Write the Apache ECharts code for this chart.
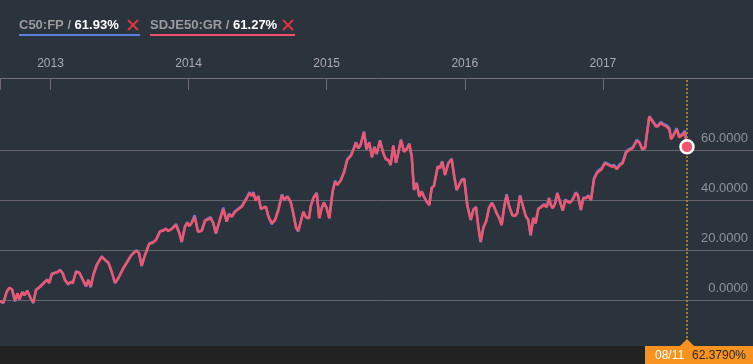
<!DOCTYPE html>
<html>
<head>
<meta charset="utf-8">
<script src="https://cdn.jsdelivr.net/npm/echarts@6/dist/echarts.min.js"></script>
<style>
html,body{margin:0;padding:0;background:#2b333d;}
#c{width:753px;height:364px;}
</style>
</head>
<body>
<div id="c"></div>
<script>
// time positions as decimal years
const years = [
2012.634,2012.658,2012.683,2012.702,2012.721,2012.743,2012.760,2012.774,2012.796,2012.810,2012.832,2012.857,2012.875,2012.895,2012.924,2012.960,2012.977,2012.991,2013.009,2013.033,2013.049,2013.069,2013.088,2013.105,2013.129,2013.146,2013.161,2013.185,2013.209,2013.233,2013.257,2013.274,2013.291,2013.310,2013.335,2013.371,2013.395,2013.419,2013.443,2013.467,2013.491,
2013.503,2013.527,2013.556,2013.581,2013.600,2013.624,2013.641,2013.660,2013.684,2013.715,2013.740,2013.764,2013.793,2013.817,2013.834,2013.853,2013.878,2013.909,2013.933,2013.950,2013.974,2013.991,2014.005,2014.022,2014.044,2014.068,2014.095,2014.119,2014.143,2014.160,2014.179,2014.198,2014.222,2014.251,2014.276,2014.293,2014.312,2014.336,2014.360,2014.385,
2014.396,2014.421,2014.440,2014.457,2014.469,2014.486,2014.505,2014.524,2014.541,2014.560,
2014.577,2014.602,2014.626,2014.650,2014.676,2014.693,2014.715,2014.739,2014.758,2014.778,
2014.794,2014.812,2014.831,2014.850,2014.872,2014.884,2014.903,2014.928,2014.946,2014.964,
2014.980,2015.000,2015.019,2015.043,2015.060,2015.077,2015.101,2015.125,2015.149,2015.176,
2015.193,2015.212,2015.229,2015.246,2015.270,2015.288,2015.308,2015.328,2015.345,2015.362,
2015.386,2015.410,2015.429,2015.446,2015.463,2015.482,2015.502,2015.518,2015.538,2015.560,
2015.579,2015.598,2015.616,2015.632,2015.652,2015.671,2015.688,2015.705,2015.724,2015.743,
2015.760,2015.777,2015.804,2015.820,2015.837,2015.857,2015.881,2015.905,2015.924,2015.941,
2015.960,2015.978,2015.996,2016.018,2016.043,2016.062,2016.081,2016.098,2016.115,2016.134,
2016.156,2016.175,2016.195,2016.211,2016.231,2016.250,2016.267,2016.284,2016.303,2016.322,
2016.344,2016.364,2016.380,2016.400,2016.419,2016.441,2016.460,2016.477,2016.496,2016.513,
2016.532,2016.552,2016.574,2016.593,2016.610,2016.622,2016.637,2016.653,2016.670,2016.689,
2016.709,2016.728,2016.745,2016.762,2016.781,2016.803,2016.818,2016.841,2016.858,2016.878,
2016.894,2016.914,2016.936,2016.959,2016.991,2017.015,2017.039,2017.064,2017.080,2017.100,
2017.124,2017.143,2017.167,2017.191,2017.216,2017.245,2017.264,2017.285,2017.305,2017.336,
2017.361,2017.385,2017.401,2017.419,2017.437,2017.462,2017.481,2017.493,2017.510,2017.534,
2017.553,2017.578,2017.594,2017.609
];

// SDJE50:GR cumulative performance (%)
const sdje50 = [
-0.4,-1.1,3.3,4.9,4.3,-0.3,2.7,0.3,3.2,1.9,3.6,0.7,-1.1,4.0,5.3,7.3,8.0,6.9,10.4,10.9,11.1,11.9,10.7,8.0,6.3,7.3,6.7,11.3,10.9,8.3,5.6,8.0,5.3,10.0,14.0,17.3,16.0,14.9,11.3,6.9,8.7,
9.0,12.7,15.3,17.6,18.7,19.7,18.7,13.7,18.0,22.4,22.9,24.0,27.5,27.7,28.5,27.6,28.4,30.0,26.7,23.3,29.3,30.9,29.6,30.7,33.3,27.3,27.7,31.7,32.3,32.7,30.7,26.7,31.3,36.3,31.3,34.4,33.3,35.3,36.3,37.3,
38.0,40.7,42.7,41.6,42.9,39.7,41.6,36.4,36.9,37.3,
33.6,30.7,32.0,36.0,42.0,40.0,41.3,39.3,34.7,29.1,
27.7,31.3,35.3,33.1,32.7,37.3,40.7,42.7,32.7,36.7,
38.9,36.7,32.7,43.3,47.3,46.0,47.7,50.9,56.0,57.7,
60.0,62.9,60.7,62.0,67.2,60.3,62.9,57.1,61.1,58.4,
63.7,58.7,56.3,56.0,54.0,61.6,54.9,58.7,64.0,59.3,
60.3,62.4,57.3,44.0,46.7,41.3,43.3,41.3,39.3,38.0,
44.7,45.6,53.3,52.7,55.3,50.0,54.7,56.3,49.3,44.0,
46.0,48.0,48.3,38.0,32.0,36.0,37.1,29.3,23.3,28.8,
31.6,36.7,38.7,37.3,34.7,32.7,30.0,36.7,42.0,37.3,
34.0,33.6,34.7,41.6,38.0,33.6,32.0,26.0,32.7,30.7,
36.3,37.1,38.0,37.1,40.7,38.0,36.7,38.4,42.7,39.3,
35.7,40.0,39.3,38.9,40.0,42.7,42.0,36.0,40.7,40.7,
41.6,40.0,48.4,50.9,52.3,54.7,54.0,53.3,53.6,52.3,
54.0,54.7,58.9,60.0,60.7,63.7,62.9,60.3,60.7,73.3,
71.3,69.3,69.6,70.9,70.0,69.3,68.3,64.3,65.6,68.3,
65.1,66.0,67.2,61.27
];

// C50:FP cumulative performance (%)
const c50 = [
-0.4,-1.3,3.3,4.9,4.3,-0.6,2.7,0.1,3.2,1.9,3.8,0.5,-1.3,4.0,5.3,7.3,8.2,6.7,10.4,10.9,11.1,12.1,10.7,8.0,6.1,7.3,6.7,11.5,10.9,8.1,5.4,8.0,5.1,10.0,14.0,17.5,16.0,14.9,11.3,6.7,8.7,
9.0,12.7,15.3,17.6,18.9,19.9,18.7,13.5,18.0,22.6,23.1,24.0,27.5,27.9,28.5,27.6,28.6,30.4,26.7,23.1,29.5,31.1,29.6,30.9,33.9,27.3,27.7,31.9,32.7,33.1,30.7,26.5,31.3,37.0,31.3,34.6,33.3,35.5,36.5,37.6,
38.3,40.9,43.1,41.8,43.2,39.7,41.6,36.4,36.9,37.3,
33.4,30.3,32.0,36.2,42.3,40.0,41.5,39.3,34.7,28.9,
27.4,31.3,35.3,33.1,32.7,37.5,40.9,42.9,32.7,36.9,
39.1,36.7,32.7,43.5,47.7,46.2,47.9,51.2,56.4,58.0,
60.3,63.1,60.7,62.2,67.4,60.3,63.1,57.1,61.3,58.4,
63.9,58.7,56.3,56.0,54.0,61.8,54.9,58.9,64.2,59.3,
60.5,62.6,57.3,44.2,46.9,41.3,43.5,41.3,39.3,38.0,
44.9,45.8,53.5,52.9,55.5,50.0,54.9,56.5,49.3,44.0,
46.2,48.2,48.5,38.0,32.0,36.2,37.3,29.3,23.1,29.0,
31.8,36.9,38.9,37.5,34.7,32.7,30.0,36.9,42.3,37.3,
34.0,33.6,34.9,41.9,38.0,33.6,32.0,25.8,32.9,30.7,
36.5,37.3,38.3,37.3,40.9,38.2,36.7,38.6,42.9,39.5,
35.7,40.2,39.5,39.1,40.3,43.0,42.2,36.0,40.9,40.9,
41.8,40.2,48.8,51.4,52.8,55.1,54.4,53.7,54.0,52.7,
54.4,55.1,59.3,60.4,61.1,64.1,63.2,60.6,61.0,73.5,
71.6,69.7,70.0,71.2,70.4,69.8,68.8,64.8,66.0,68.7,
65.6,66.5,67.7,61.93
];

const yearTicks = [2013, 2014, 2015, 2016, 2017];
const axisStart = 2012.6343;
const axisEnd = 2018.087;
const yLabelValues = [0, 20, 40, 60];
const legendItems = [
  {code: 'C50:FP', last: '61.93%', color: '#5b7fdc', x: 19, cross: 128, w: 121},
  {code: 'SDJE50:GR', last: '61.27%', color: '#f0506a', x: 150, cross: 283, w: 145}
];
const cursorYear = 2017.609;
const cursorDate = '08/11';
const cursorValue = '62.3790%';

const chart = echarts.init(document.getElementById('c'));
const gridColor = '#62676d';
const hidden = 'rgba(0,0,0,0)';

chart.setOption({
  backgroundColor: '#2b333d',
  animation: false,
  grid: {left: 0, right: 0, top: 78, bottom: 14},
  xAxis: {
    type: 'value',
    position: 'top',
    min: axisStart,
    max: axisEnd,
    axisLine: {onZero: false, lineStyle: {color: '#6e7378', width: 1}},
    axisTick: {inside: true, length: 12, lineStyle: {color: '#686d72'}, customValues: [axisStart].concat(yearTicks)},
    axisLabel: {customValues: yearTicks, color: '#a8adb2', fontSize: 12, fontFamily: 'Liberation Sans', margin: 8,
      formatter: v => String(Math.round(v))},
    splitLine: {show: false}
  },
  yAxis: {
    type: 'value',
    position: 'right',
    min: -20,
    max: 88.8,
    interval: 20,
    axisLine: {show: false},
    axisTick: {show: false},
    axisLabel: {
      inside: true, margin: 5, color: '#8d949b', fontSize: 13, fontFamily: 'Liberation Sans',
      verticalAlign: 'bottom', padding: [0, 0, 5, 0],
      formatter: v => yLabelValues.indexOf(Math.round(v)) >= 0 && Math.abs(v - Math.round(v)) < 1e-6 ? v.toFixed(4) : ''
    },
    splitLine: {lineStyle: {color: [hidden, gridColor, gridColor, gridColor, gridColor, hidden, hidden], width: 1}}
  },
  series: [
    {
      name: 'C50:FP', type: 'line', showSymbol: false, z: 2,
      data: years.map((t, i) => [t, c50[i]]),
      lineStyle: {color: '#5b7fdc', width: 2.5}
    },
    {
      name: 'SDJE50:GR', type: 'line', showSymbol: false, z: 3,
      data: years.map((t, i) => [t, sdje50[i]]),
      lineStyle: {color: '#f0566e', width: 2.5},
      markLine: {
        silent: true, symbol: 'none', label: {show: false},
        lineStyle: {color: '#a87b28', type: [2, 2], width: 2},
        data: [{xAxis: cursorYear}]
      }
    },
    {
      type: 'scatter', z: 5, symbolSize: 13,
      data: [[years[years.length - 1], sdje50[sdje50.length - 1]]],
      itemStyle: {color: '#f0566e', borderColor: '#ffffff', borderWidth: 2.5, opacity: 1}
    }
  ]
});

const px = chart.convertToPixel({gridIndex: 0}, [cursorYear, 0])[0];
const elements = [
  {type: 'rect', z: 100, shape: {x: 0, y: 346, width: 753, height: 18}, style: {fill: '#222222'}},
  {type: 'polygon', z: 101, shape: {points: [[px - 7, 346], [px, 339], [px + 7, 346]]}, style: {fill: '#f7931e'}},
  {type: 'rect', z: 101, shape: {x: px - 42, y: 346, width: 753 - (px - 42), height: 18}, style: {fill: '#f7931e'}},
  {type: 'text', z: 102, x: px - 32, y: 355.5, style: {text: cursorDate, fill: '#ffffff', font: '12px "Liberation Sans"', verticalAlign: 'middle'}},
  {type: 'text', z: 102, x: px + 5, y: 355.5, style: {text: cursorValue, fill: '#2a2a2a', font: '12px "Liberation Sans"', verticalAlign: 'middle'}}
];
legendItems.forEach(it => {
  elements.push({
    type: 'text', z: 102, x: it.x, y: 25,
    style: {
      text: '{a|' + it.code + ' / }{b|' + it.last + '}', verticalAlign: 'middle',
      rich: {
        a: {fill: '#9a9c9f', fontSize: 13, fontWeight: 'bold', fontFamily: 'Liberation Sans'},
        b: {fill: '#ffffff', fontSize: 13, fontWeight: 'bold', fontFamily: 'Liberation Sans'}
      }
    }
  });
  elements.push({type: 'line', z: 102, shape: {x1: it.cross, y1: 20, x2: it.cross + 10, y2: 30}, style: {stroke: '#e0353f', lineWidth: 2}});
  elements.push({type: 'line', z: 102, shape: {x1: it.cross, y1: 30, x2: it.cross + 10, y2: 20}, style: {stroke: '#e0353f', lineWidth: 2}});
  elements.push({type: 'rect', z: 102, shape: {x: it.x, y: 34, width: it.w, height: 2}, style: {fill: it.color}});
});
chart.setOption({graphic: {elements: elements}});
</script>
</body>
</html>
